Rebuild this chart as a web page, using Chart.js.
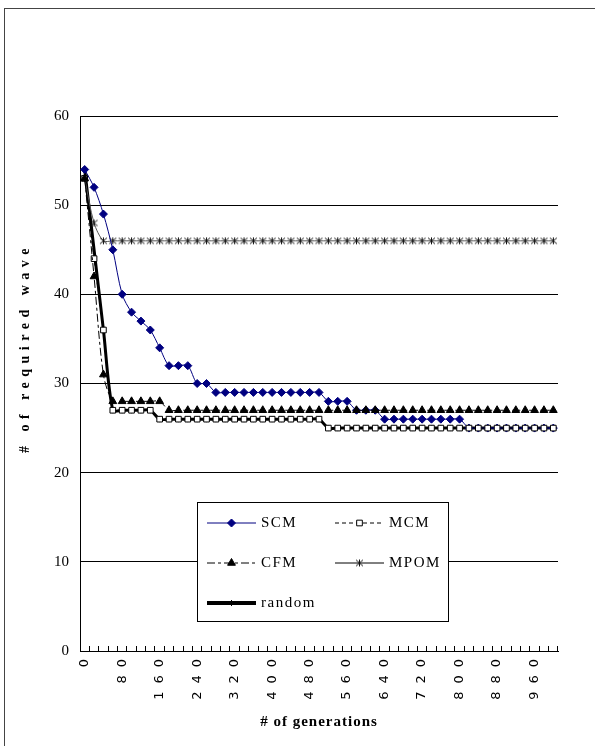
<!DOCTYPE html>
<html><head><meta charset="utf-8">
<script src="https://cdn.jsdelivr.net/npm/chart.js@4.4.1/dist/chart.umd.min.js"></script>
<style>
html,body{margin:0;padding:0;background:#fff;overflow:hidden;width:595px;height:746px;}
#frame{position:absolute;left:4px;top:8px;width:640px;height:800px;border:1px solid #444;box-sizing:border-box;}
#c{position:absolute;left:0;top:0;}
</style></head><body>
<div id="frame"></div>
<canvas id="c" width="595" height="746"></canvas>
<script>
const generations = [0,20,40,60,80,100,120,140,160,180,200,220,240,260,280,300,320,340,360,380,400,420,440,460,480,500,520,540,560,580,600,620,640,660,680,700,720,740,760,780,800,820,840,860,880,900,920,940,960,980,1000];
const seriesNames = ['SCM','MCM','CFM','MPOM','random'];
const scm = [54,52,49,45,40,38,37,36,34,32,32,32,30,30,29,29,29,29,29,29,29,29,29,29,29,29,28,28,28,27,27,27,26,26,26,26,26,26,26,26,26,25,25,25,25,25,25,25,25,25,25];
const mcm = [53,44,36,27,27,27,27,27,26,26,26,26,26,26,26,26,26,26,26,26,26,26,26,26,26,26,25,25,25,25,25,25,25,25,25,25,25,25,25,25,25,25,25,25,25,25,25,25,25,25,25];
const cfm = [53,42,31,28,28,28,28,28,28,27,27,27,27,27,27,27,27,27,27,27,27,27,27,27,27,27,27,27,27,27,27,27,27,27,27,27,27,27,27,27,27,27,27,27,27,27,27,27,27,27,27];
const mpom = [53,48,46,46,46,46,46,46,46,46,46,46,46,46,46,46,46,46,46,46,46,46,46,46,46,46,46,46,46,46,46,46,46,46,46,46,46,46,46,46,46,46,46,46,46,46,46,46,46,46,46];
const randomRun = [54,45,36,27,27,27,27,27,26,26,26,26,26,26,26,26,26,26,26,26,26,26,26,26,26,26,25,25,25,25,25,25,25,25,25,25,25,25,25,25,25,25,25,25,25,25,25,25,25,25,25];
const yTicks = [0,10,20,30,40,50,60];
const xTitle = '# of generations';
const yTitle = '# of required wave';

// Excel-like "star" marker: an x with a vertical bar
function makeStar(){
  const c = document.createElement('canvas'); c.width = 9; c.height = 9;
  const g = c.getContext('2d');
  g.strokeStyle = '#111'; g.lineWidth = 1;
  g.beginPath();
  g.moveTo(1,1.5); g.lineTo(8,7.5);
  g.moveTo(8,1.5); g.lineTo(1,7.5);
  g.moveTo(4.5,1); g.lineTo(4.5,8);
  g.stroke();
  return c;
}
const starImg = makeStar();

const styles = {
  SCM:   {color:'#000080', width:1, dash:[], point:'rectRot', r:4, fill:'#000080', order:3},
  MCM:   {color:'#000', width:1, dash:[4,3], point:'rect', r:4, fill:'#fff', order:2},
  CFM:   {color:'#000', width:1, dash:[8,3,3,3], point:'triangle', r:4.5, fill:'#000', order:1},
  MPOM:  {color:'#555', width:1, dash:[], point:starImg, r:4, fill:'#000', order:4, pborder:'#222'},
  random:{color:'#000', width:3, dash:[], point:'line', r:3, fill:'#000', order:5, rot:90}
};
const values = {SCM:scm, MCM:mcm, CFM:cfm, MPOM:mpom, random:randomRun};

const datasets = seriesNames.map(n => {
  const s = styles[n];
  return {
    label:n, data:values[n], borderColor:s.color, borderWidth:s.width, borderDash:s.dash,
    pointStyle:s.point, pointRadius:s.r, pointRotation:s.rot||0,
    pointBackgroundColor:s.fill, pointBorderColor:s.pborder||(n==='SCM'?'#000080':'#000'), pointBorderWidth:1,
    tension:0.3, fill:false, order:s.order
  };
});

const decor = {
  id:'decor',
  beforeDraw(chart){ chart.ctx.letterSpacing = '0px'; },
  afterDatasetsDraw(chart){ chart.ctx.letterSpacing = '8px'; },
  afterDraw(chart){
    const ctx = chart.ctx;
    ctx.save();
    ctx.letterSpacing = '0px';
    ctx.fillStyle = '#000';
    ctx.save();
    ctx.translate(25, 348);
    ctx.rotate(-Math.PI/2);
    ctx.font = 'bold 14px "Liberation Serif"';
    ctx.letterSpacing = '5.5px';
    ctx.textAlign = 'center'; ctx.textBaseline = 'middle';
    ctx.fillText(yTitle, 0, 0);
    ctx.restore();
    ctx.save();
    ctx.font = 'bold 15px "Liberation Serif"';
    ctx.letterSpacing = '1px';
    ctx.textAlign = 'center'; ctx.textBaseline = 'middle';
    ctx.fillText(xTitle, 319, 722);
    ctx.restore();
    // legend box
    ctx.fillStyle = '#fff';
    ctx.fillRect(197.5, 502.5, 251, 119);
    ctx.strokeStyle = '#000'; ctx.lineWidth = 1;
    ctx.strokeRect(197.5, 502.5, 251, 119);
    const slots = [[207,523],[335,523],[207,563],[335,563],[207,603]];
    seriesNames.forEach((n,i) => {
      const s = styles[n];
      const [x0,y0] = slots[i];
      ctx.save();
      ctx.strokeStyle = n==='MPOM' ? '#000' : s.color;
      ctx.lineWidth = n==='random' ? 4 : s.width;
      ctx.setLineDash(s.dash);
      ctx.beginPath(); ctx.moveTo(x0, y0); ctx.lineTo(x0+49, y0); ctx.stroke();
      ctx.setLineDash([]);
      ctx.fillStyle = s.fill;
      ctx.strokeStyle = s.pborder || (n==='SCM'?'#000080':'#000');
      ctx.lineWidth = 1;
      Chart.helpers.drawPoint(ctx, {pointStyle:s.point, radius:s.r, borderWidth:1, rotation:s.rot||0}, x0+24.5, y0);
      ctx.restore();
      ctx.fillStyle = '#000';
      ctx.font = '15px "Liberation Serif"';
      ctx.letterSpacing = '1.5px';
      ctx.textAlign = 'left'; ctx.textBaseline = 'middle';
      ctx.fillText(n, x0+54, y0);
      ctx.letterSpacing = '0px';
    });
    ctx.restore();
  }
};

new Chart(document.getElementById('c'), {
  type:'line',
  data:{labels:generations, datasets},
  options:{
    responsive:false, animation:false, devicePixelRatio:1,
    layout:{padding:{left:0, top:116, right:37, bottom:0}},
    plugins:{legend:{display:false}, tooltip:{enabled:false}, title:{display:false}},
    scales:{
      x:{
        type:'category', offset:true,
        grid:{display:true, drawOnChartArea:false, drawTicks:true, tickLength:-5, color:'#000', offset:true},
        border:{display:true, color:'#000', width:1},
        ticks:{autoSkip:false, maxRotation:90, minRotation:90, padding:5, color:'#000', z:1,
          font:{family:'DejaVu Sans', size:13},
          callback:function(v,i){ return i%4===0 ? String(generations[i]) : ''; }},
        afterFit(s){ s.height = 95; }
      },
      y:{
        min:0, max:60,
        afterBuildTicks(s){ s.ticks = yTicks.map(v=>({value:v})); },
        grid:{color:'#000', drawTicks:false, lineWidth:1},
        border:{display:true, color:'#000', width:1},
        ticks:{padding:11, color:'#000', font:{family:'Liberation Serif', size:15}},
        afterFit(s){ s.width = 80; }
      }
    }
  },
  plugins:[decor]
});
</script>
</body></html>
